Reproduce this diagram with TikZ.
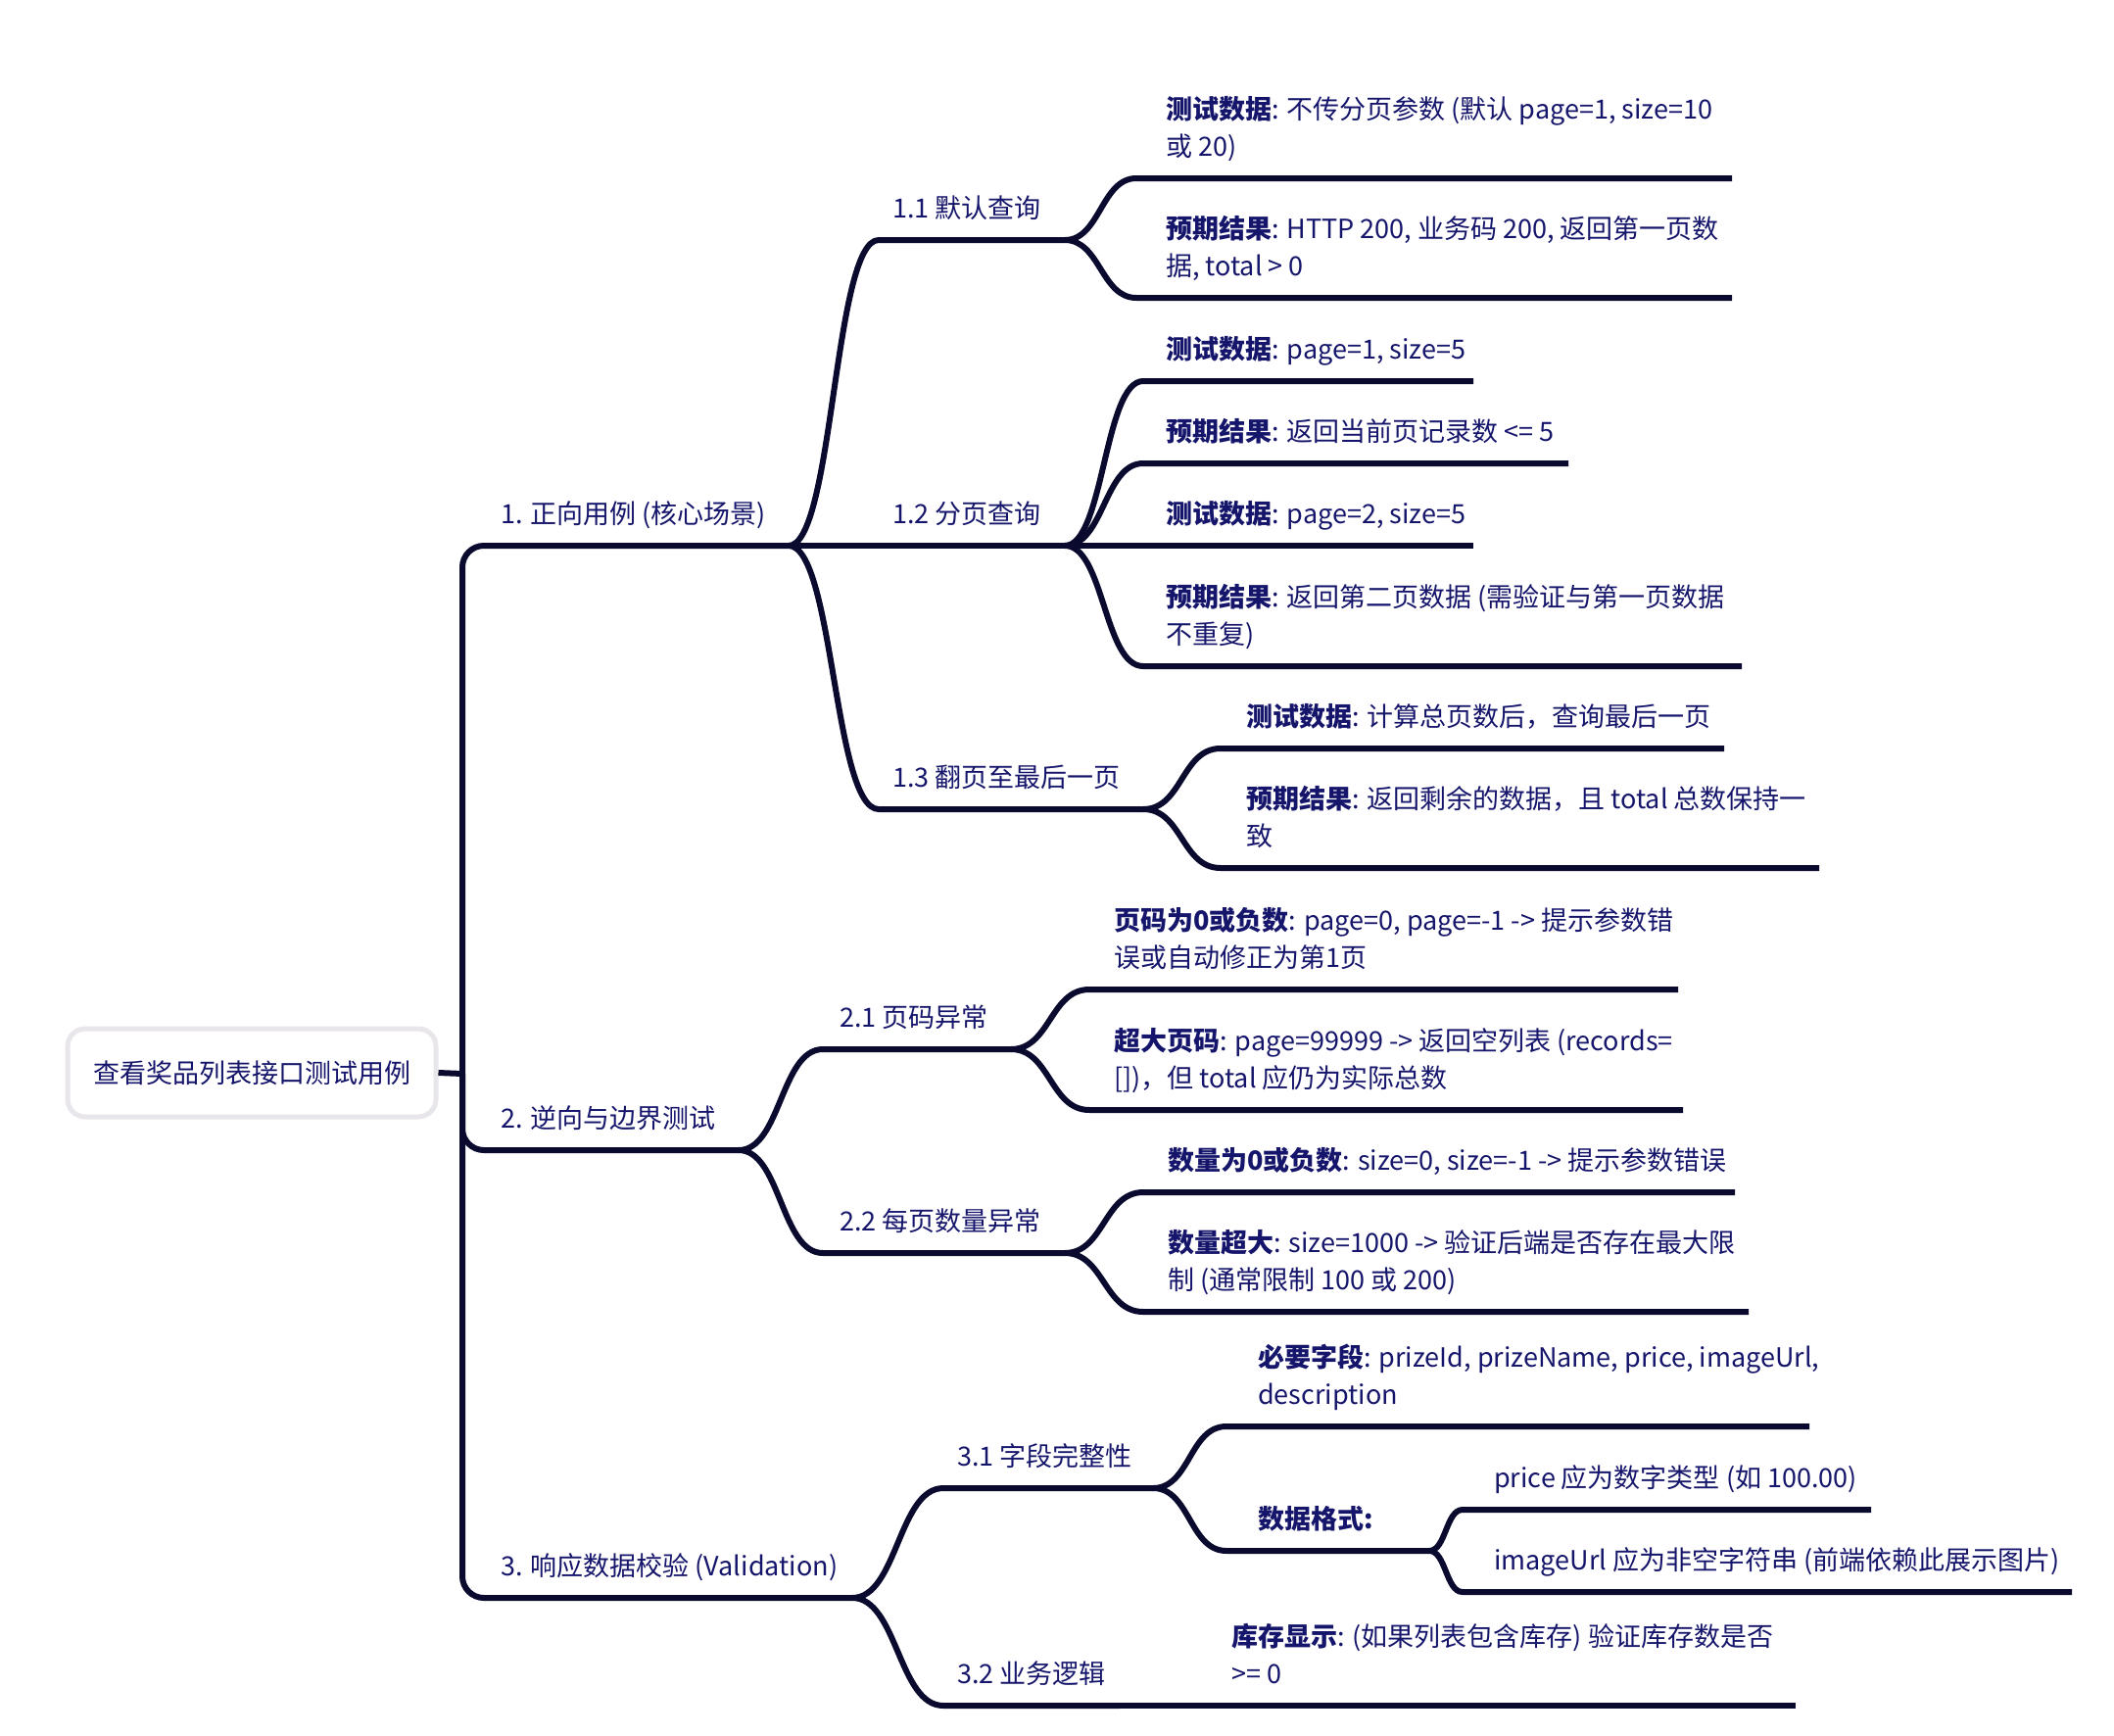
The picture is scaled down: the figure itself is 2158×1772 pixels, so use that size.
\documentclass[tikz,border=0pt]{standalone}
\usepackage{fontspec}
\setmainfont{Noto Sans CJK SC}
\definecolor{linec}{HTML}{0A0A2E}
\definecolor{txtc}{HTML}{15156B}
\definecolor{rootb}{HTML}{E8E6EA}
\tikzset{
  edge/.style={draw=linec, line width=6pt},
  trunk/.style={edge, rounded corners=22pt},
  lbl/.style={anchor=south west, inner sep=0pt, align=left, text=txtc,
    font=\fontsize{27}{38}\selectfont, yshift=10.6pt, execute at end node=\strut},
  rootbox/.style={draw=rootb, line width=5pt, fill=white, rounded corners=18pt,
    minimum width=376pt, minimum height=90pt, inner sep=0pt, text=txtc,
    font=\fontsize{27}{38}\selectfont},
}
\begin{document}
\begin{tikzpicture}[x=1pt,y=-1pt]
\useasboundingbox (0,0) rectangle (2158,1772);
% root
\node[rootbox] (root) at (257,1095) {查看奖品列表接口测试用例};
\coordinate (J) at (472,1096);
\draw[edge] (root.east) -- (J);
% level 1
\coordinate (b1) at (805,557);
\coordinate (b2) at (754,1174);
\coordinate (b3) at (870,1631);
\draw[trunk] (J) |- (b1);
\draw[trunk] (J) |- (b2);
\draw[trunk] (J) |- (b3);
\node[lbl] (n1) at (511,557) {1. 正向用例 (核心场景)};
\node[lbl] (n2) at (511,1174) {2. 逆向与边界测试};
\node[lbl] (n3) at (511,1631) {3. 响应数据校验 (Validation)};
% level 2
\coordinate (a11s) at (897,245); \coordinate (a11e) at (1087,245);
\coordinate (a12e) at (1087,557);
\coordinate (a13s) at (897,826); \coordinate (a13e) at (1167,826);
\coordinate (a21s) at (840,1071); \coordinate (a21e) at (1032,1071);
\coordinate (a22s) at (840,1279); \coordinate (a22e) at (1087,1279);
\coordinate (a31s) at (963,1519); \coordinate (a31e) at (1177,1519);
\coordinate (a32s) at (963,1741); \coordinate (a32e) at (1143,1741);
\draw[edge] (b1) .. controls +(46,0) and +(-46,0) .. (a11s) -- (a11e);
\draw[edge] (b1) -- (a12e);
\draw[edge] (b1) .. controls +(46,0) and +(-46,0) .. (a13s) -- (a13e);
\draw[edge] (b2) .. controls +(43,0) and +(-43,0) .. (a21s) -- (a21e);
\draw[edge] (b2) .. controls +(43,0) and +(-43,0) .. (a22s) -- (a22e);
\draw[edge] (b3) .. controls +(46,0) and +(-46,0) .. (a31s) -- (a31e);
\draw[edge] (b3) .. controls +(46,0) and +(-46,0) .. (a32s) -- (a32e);
\node[lbl] (n11) at (911,245) {1.1 默认查询};
\node[lbl] (n12) at (911,557) {1.2 分页查询};
\node[lbl] (n13) at (911,826) {1.3 翻页至最后一页};
\node[lbl] (n21) at (857,1071) {2.1 页码异常};
\node[lbl] (n22) at (857,1279) {2.2 每页数量异常};
\node[lbl] (n31) at (977,1519) {3.1 字段完整性};
\node[lbl] (n32) at (977,1741) {3.2 业务逻辑};
% level 3 : 1.1
\coordinate (c111s) at (1160,182); \coordinate (c111e) at (1768,182);
\coordinate (c112s) at (1160,304); \coordinate (c112e) at (1768,304);
\draw[edge] (a11e) .. controls +(36,0) and +(-36,0) .. (c111s) -- (c111e);
\draw[edge] (a11e) .. controls +(36,0) and +(-36,0) .. (c112s) -- (c112e);
\node[lbl] (l111) at (1190,182) {\textbf{测试数据}: 不传分页参数 (默认 page=1, size=10\\或 20)};
\node[lbl] (l112) at (1190,304) {\textbf{预期结果}: HTTP 200, 业务码 200, 返回第一页数\\据, total > 0};
% level 3 : 1.2
\coordinate (c121s) at (1167,389); \coordinate (c121e) at (1504,389);
\coordinate (c122s) at (1167,473); \coordinate (c122e) at (1601,473);
\coordinate (c123e) at (1504,557);
\coordinate (c124s) at (1167,680); \coordinate (c124e) at (1778,680);
\draw[edge] (a12e) .. controls +(40,0) and +(-40,0) .. (c121s) -- (c121e);
\draw[edge] (a12e) .. controls +(40,0) and +(-40,0) .. (c122s) -- (c122e);
\draw[edge] (a12e) -- (c123e);
\draw[edge] (a12e) .. controls +(40,0) and +(-40,0) .. (c124s) -- (c124e);
\node[lbl] (l121) at (1190,389) {\textbf{测试数据}: page=1, size=5};
\node[lbl] (l122) at (1190,473) {\textbf{预期结果}: 返回当前页记录数 <= 5};
\node[lbl] (l123) at (1190,557) {\textbf{测试数据}: page=2, size=5};
\node[lbl] (l124) at (1190,680) {\textbf{预期结果}: 返回第二页数据 (需验证与第一页数据\\不重复)};
% level 3 : 1.3
\coordinate (c131s) at (1246,764); \coordinate (c131e) at (1760,764);
\coordinate (c132s) at (1246,886); \coordinate (c132e) at (1857,886);
\draw[edge] (a13e) .. controls +(40,0) and +(-40,0) .. (c131s) -- (c131e);
\draw[edge] (a13e) .. controls +(40,0) and +(-40,0) .. (c132s) -- (c132e);
\node[lbl] (l131) at (1272,764) {\textbf{测试数据}: 计算总页数后，查询最后一页};
\node[lbl] (l132) at (1272,886) {\textbf{预期结果}: 返回剩余的数据，且 total 总数保持一\\致};
% level 3 : 2.1
\coordinate (c211s) at (1112,1010); \coordinate (c211e) at (1713,1010);
\coordinate (c212s) at (1112,1133); \coordinate (c212e) at (1718,1133);
\draw[edge] (a21e) .. controls +(40,0) and +(-40,0) .. (c211s) -- (c211e);
\draw[edge] (a21e) .. controls +(40,0) and +(-40,0) .. (c212s) -- (c212e);
\node[lbl] (l211) at (1137,1010) {\textbf{页码为0或负数}: page=0, page=-1 -> 提示参数错\\误或自动修正为第1页};
\node[lbl] (l212) at (1137,1133) {\textbf{超大页码}: page=99999 -> 返回空列表 (records=\\{[]})，但 total 应仍为实际总数};
% level 3 : 2.2
\coordinate (c221s) at (1167,1217); \coordinate (c221e) at (1771,1217);
\coordinate (c222s) at (1167,1339); \coordinate (c222e) at (1785,1339);
\draw[edge] (a22e) .. controls +(40,0) and +(-40,0) .. (c221s) -- (c221e);
\draw[edge] (a22e) .. controls +(40,0) and +(-40,0) .. (c222s) -- (c222e);
\node[lbl] (l221) at (1192,1217) {\textbf{数量为0或负数}: size=0, size=-1 -> 提示参数错误};
\node[lbl] (l222) at (1192,1339) {\textbf{数量超大}: size=1000 -> 验证后端是否存在最大限\\制 (通常限制 100 或 200)};
% level 3 : 3.1
\coordinate (c311s) at (1252,1456); \coordinate (c311e) at (1847,1456);
\coordinate (c312s) at (1252,1583); \coordinate (c312e) at (1459,1583);
\draw[edge] (a31e) .. controls +(38,0) and +(-38,0) .. (c311s) -- (c311e);
\draw[edge] (a31e) .. controls +(38,0) and +(-38,0) .. (c312s) -- (c312e);
\node[lbl] (l311) at (1284,1456) {\textbf{必要字段}: prizeId, prizeName, price, imageUrl,\\description};
\node[lbl] (l312) at (1284,1583) {\textbf{数据格式:}};
% level 4
\coordinate (d1s) at (1493,1541); \coordinate (d1e) at (1910,1541);
\coordinate (d2s) at (1493,1625); \coordinate (d2e) at (2115,1625);
\draw[edge] (c312e) .. controls +(17,0) and +(-17,0) .. (d1s) -- (d1e);
\draw[edge] (c312e) .. controls +(17,0) and +(-17,0) .. (d2s) -- (d2e);
\node[lbl] (l3121) at (1525,1541) {price 应为数字类型 (如 100.00)};
\node[lbl] (l3122) at (1525,1625) {imageUrl 应为非空字符串 (前端依赖此展示图片)};
% level 3 : 3.2
\coordinate (c321e) at (1833,1741);
\draw[edge] (a32e) -- (c321e);
\node[lbl] (l321) at (1257,1741) {\textbf{库存显示}: (如果列表包含库存) 验证库存数是否\\>= 0};
\end{tikzpicture}
\end{document}
